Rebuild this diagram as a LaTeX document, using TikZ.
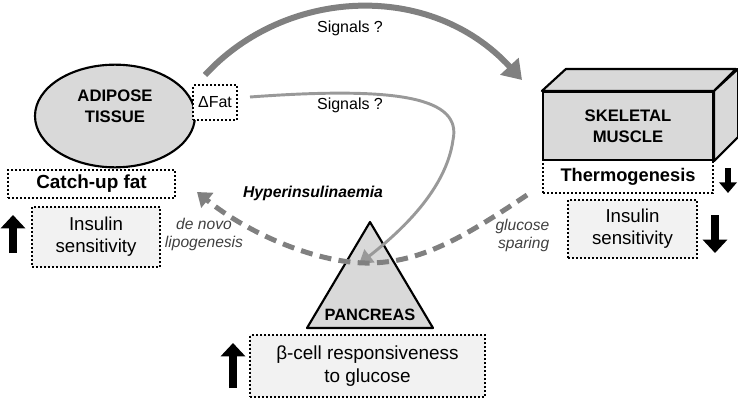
\documentclass[tikz,border=0pt]{standalone}
\usepackage{fontspec}
\setmainfont{Liberation Sans}
\usetikzlibrary{arrows.meta,shapes.geometric}

\definecolor{organgray}{HTML}{D9D9D9}
\definecolor{boxgray}{HTML}{F2F2F2}
\definecolor{arrowgray}{HTML}{808080}
\definecolor{thingray}{HTML}{999999}
\definecolor{notegray}{HTML}{404040}

\begin{document}
\begin{tikzpicture}[x=0.75pt, y=-0.75pt,
    organ/.style={draw, line width=1.6pt, fill=organgray, line join=round},
    dotbox/.style={draw, line width=1.5pt, dash pattern=on 1.5pt off 1.5pt, inner sep=0pt, align=center},
    organtext/.style={font=\fontsize{12.5}{15.75}\selectfont\bfseries, align=center},
    boxtext/.style={font=\fontsize{14}{16.5}\selectfont},
    signaltext/.style={font=\fontsize{12}{14}\selectfont},
    notetext/.style={font=\fontsize{11.7}{13.5}\selectfont\itshape, text=notegray, align=center},
    updown/.style={line width=6pt, -{Triangle[width=18pt,length=10pt]}},
    updownsmall/.style={line width=4.5pt, -{Triangle[width=13pt,length=8pt]}}]
    \useasboundingbox (0,0) rectangle (738,407);

    \node[organ, ellipse, minimum width=120pt, minimum height=77pt] (adipose) at (115,116) {};
    \node[organtext] (adiposetxt) at (115,106) {ADIPOSE\\TISSUE};
    \node[dotbox, fill=white, signaltext, minimum width=33pt, minimum height=26pt] (dfat) at (215,102.5) {ΔFat};
    \node[dotbox, boxtext, font=\fontsize{14.2}{16.5}\selectfont\bfseries, minimum width=125pt, minimum height=21pt] (catchup) at (91.5,184) {Catch-up fat};
    \node[dotbox, fill=boxgray, boxtext, minimum width=96pt, minimum height=45pt] (insleft) at (96,237) {Insulin\\sensitivity};

    \node[organ, minimum width=127.5pt, minimum height=51pt, organtext] (muscle) at (628,126) {SKELETAL\\MUSCLE};
    \draw[organ] (muscle.north west) -- ++(24,-22) -- ++(170,0) -- (muscle.north east) -- cycle;
    \draw[organ] (muscle.north east) -- ++(24,-22) -- ++(0,68) -- (muscle.south east) -- cycle;
    \node[dotbox, boxtext, font=\fontsize{13.7}{16}\selectfont\bfseries, minimum width=127.5pt, minimum height=24.75pt] (thermo) at (628,176.5) {Thermogenesis};
    \node[dotbox, fill=boxgray, boxtext, minimum width=96.75pt, minimum height=43.5pt] (insright) at (632.5,229) {Insulin\\sensitivity};

    \coordinate (pantop) at (370,222);
    \coordinate (panright) at (433,328);
    \coordinate (panleft) at (307,328);
    \draw[organ] (pantop) -- (panright) -- (panleft) -- cycle;
    \node[organtext, font=\fontsize{12.3}{14}\selectfont\bfseries] (pancreas) at (370,315) {PANCREAS};
    \node[dotbox, fill=boxgray, boxtext, font=\fontsize{14.2}{17.25}\selectfont, minimum width=176pt, minimum height=46.5pt] (beta) at (367.5,366) {β-cell responsiveness\\to glucose};

    \coordinate (bigstart) at (205,75);
    \coordinate (bigend) at (522,80);
    \draw[line width=4.5pt, arrowgray, -{Triangle[width=18pt,length=14pt]}] (bigstart) .. controls (285,-12) and (430,-20) .. (bigend);
    \node[signaltext] (signalsup) at (350,28) {Signals ?};

    \coordinate (thinstart) at (250,97);
    \coordinate (thinbend) at (453,140);
    \coordinate (thinend) at (359,264);
    \draw[line width=2.2pt, thingray, -{Triangle[width=12pt,length=10pt]}] (thinstart) .. controls (400,86) and (462,98) .. (thinbend) .. controls (446,190) and (400,232) .. (thinend);
    \node[signaltext] (signalslow) at (350,105) {Signals ?};

    \coordinate (dashstart) at (527,195);
    \coordinate (dashlow) at (370,263);
    \coordinate (dashend) at (197,192);
    \draw[line width=3.75pt, arrowgray, dash pattern=on 9pt off 5.5pt, -{Triangle[width=14pt,length=10pt]}] (dashstart) .. controls (460,240) and (420,262) .. (dashlow) .. controls (320,264) and (250,235) .. (dashend);
    \node[font=\fontsize{11.8}{14}\selectfont\bfseries\itshape] (hyper) at (313,193) {Hyperinsulinaemia};
    \node[notetext] (lipo) at (204,234) {de novo\\lipogenesis};
    \node[notetext, align=right, anchor=east] (sparing) at (554,235) {glucose\\sparing};

    \coordinate (upleftbot) at (13,253);
    \coordinate (uplefttop) at (13,215);
    \draw[updown] (upleftbot) -- (uplefttop);
    \coordinate (downsmalltop) at (728,168);
    \coordinate (downsmallbot) at (728,193);
    \draw[updownsmall] (downsmalltop) -- (downsmallbot);
    \coordinate (downbigtop) at (715,215);
    \coordinate (downbigbot) at (715,253);
    \draw[updown] (downbigtop) -- (downbigbot);
    \coordinate (upbetabot) at (233,388);
    \coordinate (upbetatop) at (233,343);
    \draw[updown] (upbetabot) -- (upbetatop);
\end{tikzpicture}
\end{document}
